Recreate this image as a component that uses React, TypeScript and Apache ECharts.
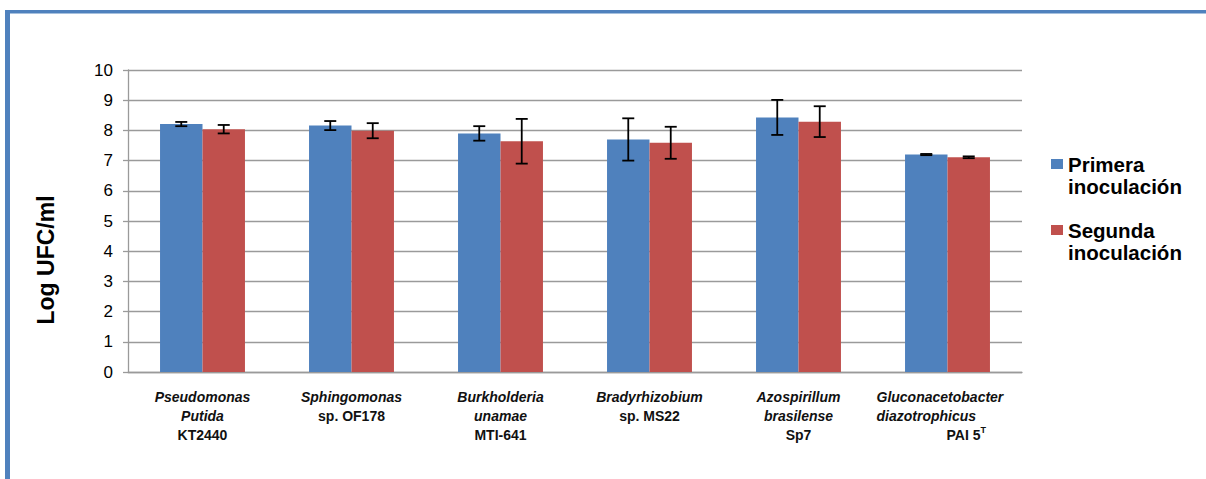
import React, { useEffect, useRef } from "react";
import * as echarts from "echarts";

const categories = [
  "Pseudomonas Putida KT2440",
  "Sphingomonas sp. OF178",
  "Burkholderia unamae MTI-641",
  "Bradyrhizobium sp. MS22",
  "Azospirillum brasilense Sp7",
  "Gluconacetobacter diazotrophicus PAI 5T",
];
const categoryLabels = [
  "{i|Pseudomonas}\n{i|Putida}\n{n|KT2440}",
  "{i|Sphingomonas}\n{n|sp. OF178}",
  "{i|Burkholderia}\n{i|unamae}\n{n|MTI-641}",
  "{i|Bradyrhizobium}\n{n|sp. MS22}",
  "{i|Azospirillum}\n{i|brasilense}\n{n|Sp7}",
  "{gw|Gluconacetobacter}\n{gw|diazotrophicus}\n{sp| }{pai|PAI 5}{sup|T}",
];
const seriesNames = ["Primera inoculación", "Segunda inoculación"];
const primera = [8.21, 8.16, 7.9, 7.7, 8.43, 7.2];
const primeraErr = [0.07, 0.15, 0.24, 0.7, 0.58, 0.02];
const segunda = [8.04, 7.99, 7.64, 7.59, 8.29, 7.11];
const segundaErr = [0.14, 0.25, 0.74, 0.53, 0.51, 0.03];
const yTicks = [0, 10, 1]; // min, max, interval

const FONT = "'Liberation Sans', Arial, sans-serif";
const BLUE = "#4F81BD";
const RED = "#C0504D";
const GRID_GRAY = "#9a9a9a";
const BAR_CAT_GAP = 0.43;

function errorSeries(vals: number[], errs: number[], sign: number) {
  return {
    type: "custom",
    silent: true,
    z: 10,
    encode: { x: 0, y: [1, 2] },
    data: vals.map((v, i) => [i, v - errs[i], v + errs[i]]),
    renderItem: (params: any, api: any) => {
      const idx = api.value(0);
      const lo = api.coord([idx, api.value(1)]);
      const hi = api.coord([idx, api.value(2)]);
      const band = api.size([1, 0])[0];
      const x = lo[0] + (sign * band * (1 - BAR_CAT_GAP)) / 4;
      const hw = 6;
      const st = { stroke: "#000", lineWidth: 1.8 };
      return {
        type: "group",
        children: [
          { type: "line", shape: { x1: x, y1: lo[1], x2: x, y2: hi[1] }, style: st },
          { type: "line", shape: { x1: x - hw, y1: lo[1], x2: x + hw, y2: lo[1] }, style: st },
          { type: "line", shape: { x1: x - hw, y1: hi[1], x2: x + hw, y2: hi[1] }, style: st },
        ],
      };
    },
  };
}

export default function App() {
  const ref = useRef<HTMLDivElement>(null);
  useEffect(() => {
    if (!ref.current) return;
    const chart = echarts.init(ref.current, null, { renderer: "svg" });
    const labelBase = { fontFamily: FONT, fontSize: 14, fontWeight: "bold", color: "#111", lineHeight: 19 };
    chart.setOption({
      animation: false,
      backgroundColor: "#fff",
      grid: { left: 128, right: 184, top: 70, bottom: 107, containLabel: false },
      legend: {
        data: seriesNames,
        orient: "vertical",
        left: 1051,
        top: 131,
        padding: 0,
        itemGap: 0,
        itemWidth: 12,
        itemHeight: 10,
        icon: "rect",
        formatter: (name: string) => `{b| }\n{t|${name.replace(" ", "}\n{t|")}}`,
        textStyle: {
          rich: {
            t: { fontFamily: FONT, fontSize: 20.5, fontWeight: "bold", color: "#000", lineHeight: 22.5 },
            b: { fontFamily: FONT, fontSize: 20.5, lineHeight: 22.5 },
          },
        },
      },
      xAxis: {
        type: "category",
        data: categories,
        axisLine: { show: true, lineStyle: { color: GRID_GRAY, width: 1.3 } },
        axisTick: { show: false },
        axisLabel: {
          interval: 0,
          margin: 15,
          formatter: (_v: string, i: number) => categoryLabels[i],
          rich: {
            i: { ...labelBase, fontStyle: "italic" },
            n: { ...labelBase },
            gw: { ...labelBase, fontStyle: "italic", width: 142, align: "left" },
            sp: { ...labelBase, width: 70, align: "left" },
            pai: { ...labelBase, align: "left" },
            sup: { ...labelBase, fontSize: 9, lineHeight: 10, align: "left", verticalAlign: "top" },
          },
        },
      },
      yAxis: {
        type: "value",
        min: yTicks[0],
        max: yTicks[1],
        interval: yTicks[2],
        axisLine: { show: true, lineStyle: { color: GRID_GRAY, width: 1.3 } },
        axisTick: { show: true, length: 5, lineStyle: { color: GRID_GRAY, width: 1.3 } },
        axisLabel: { margin: 15, fontFamily: FONT, fontSize: 17, color: "#000" },
        splitLine: { show: true, lineStyle: { color: GRID_GRAY, width: 1.3 } },
      },
      series: [
        {
          name: seriesNames[0],
          type: "bar",
          data: primera,
          barGap: "0%",
          barCategoryGap: `${BAR_CAT_GAP * 100}%`,
          itemStyle: { color: BLUE },
        },
        {
          name: seriesNames[1],
          type: "bar",
          data: segunda,
          barGap: "0%",
          barCategoryGap: `${BAR_CAT_GAP * 100}%`,
          itemStyle: { color: RED },
        },
        errorSeries(primera, primeraErr, -1),
        errorSeries(segunda, segundaErr, 1),
      ],
      graphic: [
        { type: "rect", shape: { x: 5, y: 10, width: 1201, height: 3.5 }, style: { fill: BLUE } },
        { type: "rect", shape: { x: 5, y: 10, width: 5, height: 469 }, style: { fill: BLUE } },
        {
          type: "text",
          x: 46,
          y: 260,
          rotation: Math.PI / 2,
          style: {
            text: "Log UFC/ml",
            font: `bold 23px ${FONT}`,
            fill: "#000",
            textAlign: "center",
            textVerticalAlign: "middle",
          },
        },
      ],
    });
    return () => chart.dispose();
  }, []);
  return (
    <div
      ref={ref}
      style={{ position: "absolute", left: 0, top: 0, width: 1206, height: 479 }}
    />
  );
}
